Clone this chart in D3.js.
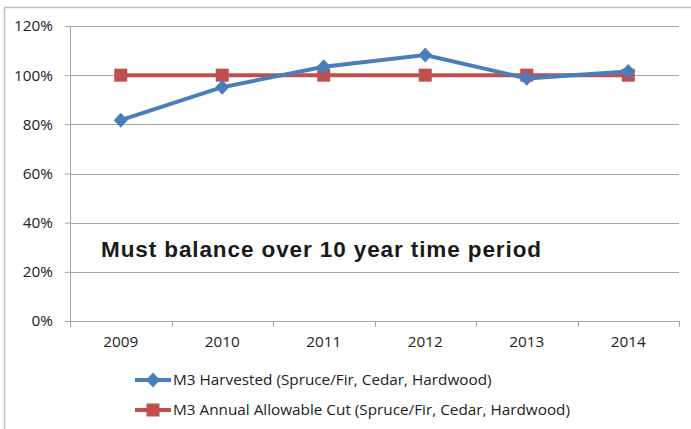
<!DOCTYPE html>
<html>
<head>
<meta charset="utf-8">
<script src="https://cdn.jsdelivr.net/npm/d3@7"></script>
<style>
  body { margin: 0; background: #fff; }
  text { font-family: "Open Sans", Lato, sans-serif; }
</style>
</head>
<body>
<div id="chart"></div>
<script>
// chart data
var years = ["2009", "2010", "2011", "2012", "2013", "2014"];
var harvested = [0.817, 0.951, 1.034, 1.082, 0.987, 1.015];
var allowable = [1, 1, 1, 1, 1, 1];
var yTicks = [0, 0.2, 0.4, 0.6, 0.8, 1.0, 1.2];
var seriesNames = [
    "M3 Harvested (Spruce/Fir, Cedar, Hardwood)",
    "M3 Annual Allowable Cut (Spruce/Fir, Cedar, Hardwood)"
];

var svgWidth = 691;
var svgHeight = 429;

var margin = {
    top: 26,
    right: 12,
    left: 70,
    bottom: 108
};

var chartWidth = svgWidth - margin.left - margin.right;
var chartHeight = svgHeight - margin.top - margin.bottom;

var blue = "#4a7ebb";
var red = "#c0504d";
var grid = "#a6a6a6";
var fontSize = 15.3;

var svg = d3.select("#chart")
    .append("svg")
        .attr("width", svgWidth)
        .attr("height", svgHeight);

// outer chart border (only left and top show in the crop)
svg.append("path")
    .attr("d", "M4.5," + svgHeight + "V7.5H" + svgWidth)
    .attr("fill", "none")
    .attr("stroke", "#bfbfbf")
    .attr("stroke-width", 1.5);

var chartCanvas = svg.append("g")
    .attr("transform", `translate(${margin.left}, ${margin.top})`);

var xScale = d3.scaleBand()
    .domain(years)
    .range([0, chartWidth]);

var yScale = d3.scaleLinear()
    .domain([0, 1.2])
    .range([chartHeight, 0]);

// gridlines
chartCanvas.append("g")
    .selectAll("line")
    .data(yTicks.slice(1))
    .enter()
    .append("line")
        .attr("x1", 0)
        .attr("x2", chartWidth)
        .attr("y1", d => Math.round(yScale(d)) + 0.5)
        .attr("y2", d => Math.round(yScale(d)) + 0.5)
        .attr("stroke", grid)
        .attr("stroke-width", 1);

// y axis
var yAxis = d3.axisLeft(yScale)
    .tickValues(yTicks)
    .tickFormat(d3.format(".0%"))
    .tickSize(5)
    .tickPadding(12);

var yG = chartCanvas.append("g").call(yAxis);
yG.attr("font-family", null).attr("font-size", null);
yG.select(".domain").attr("stroke", grid).attr("d", "M0.5,0V" + chartHeight);
yG.selectAll(".tick line").attr("stroke", grid);
yG.selectAll(".tick text")
    .attr("font-size", fontSize)
    .attr("fill", "#222");

// x axis
var xAxis = d3.axisBottom(xScale)
    .tickSizeOuter(0)
    .tickSize(0)
    .tickPadding(15);

var xG = chartCanvas.append("g")
    .attr("transform", `translate(0, ${chartHeight})`)
    .call(xAxis);
xG.attr("font-family", null).attr("font-size", null);
xG.select(".domain").attr("stroke", grid);
xG.selectAll(".tick text")
    .attr("font-size", fontSize)
    .attr("fill", "#222");

// x tick marks at band edges
xG.selectAll(".edge")
    .data(years.concat(["end"]))
    .enter()
    .append("line")
        .attr("x1", (d, i) => Math.round(i * xScale.step()) + 0.5)
        .attr("x2", (d, i) => Math.round(i * xScale.step()) + 0.5)
        .attr("y1", 0)
        .attr("y2", 6)
        .attr("stroke", grid);

var xCenter = d => xScale(d) + xScale.bandwidth() / 2;

var line = d3.line()
    .x((d, i) => xCenter(years[i]))
    .y(d => yScale(d));

// allowable cut series
chartCanvas.append("path")
    .datum(allowable)
    .attr("d", line)
    .attr("fill", "none")
    .attr("stroke", red)
    .attr("stroke-width", 4);

chartCanvas.selectAll(".sq")
    .data(allowable)
    .enter()
    .append("rect")
        .attr("x", (d, i) => xCenter(years[i]) - 6.5)
        .attr("y", d => yScale(d) - 6.5)
        .attr("width", 13)
        .attr("height", 13)
        .attr("fill", red);

// harvested series
chartCanvas.append("path")
    .datum(harvested)
    .attr("d", line)
    .attr("fill", "none")
    .attr("stroke", blue)
    .attr("stroke-width", 4);

var diamond = "M0,-7.5L7,0L0,7.5L-7,0Z";

chartCanvas.selectAll(".dm")
    .data(harvested)
    .enter()
    .append("path")
        .attr("d", diamond)
        .attr("transform", (d, i) => `translate(${xCenter(years[i])}, ${yScale(d)})`)
        .attr("fill", blue);

// annotation
svg.append("text")
    .attr("x", 101)
    .attr("y", 257)
    .attr("font-weight", "bold")
    .attr("font-size", 22.5)
    .attr("letter-spacing", 0.9)
    .attr("fill", "#1a1a1a")
    .style("font-family", "'Liberation Sans', Arial, sans-serif")
    .text("Must balance over 10 year time period");

// legend
var legend = svg.append("g");
var legendRows = [
    { name: seriesNames[0], color: blue, y: 380, shape: "diamond" },
    { name: seriesNames[1], color: red, y: 410, shape: "square" }
];

legendRows.forEach(function (r) {
    legend.append("line")
        .attr("x1", 135)
        .attr("x2", 171)
        .attr("y1", r.y)
        .attr("y2", r.y)
        .attr("stroke", r.color)
        .attr("stroke-width", 4);
    if (r.shape === "diamond") {
        legend.append("path")
            .attr("d", diamond)
            .attr("transform", `translate(153, ${r.y})`)
            .attr("fill", r.color);
    } else {
        legend.append("rect")
            .attr("x", 146.5)
            .attr("y", r.y - 6.5)
            .attr("width", 13)
            .attr("height", 13)
            .attr("fill", r.color);
    }
    legend.append("text")
        .attr("x", 173)
        .attr("y", r.y + 5)
        .attr("font-size", fontSize)
        .attr("fill", "#222")
        .text(r.name);
});
</script>
</body>
</html>
